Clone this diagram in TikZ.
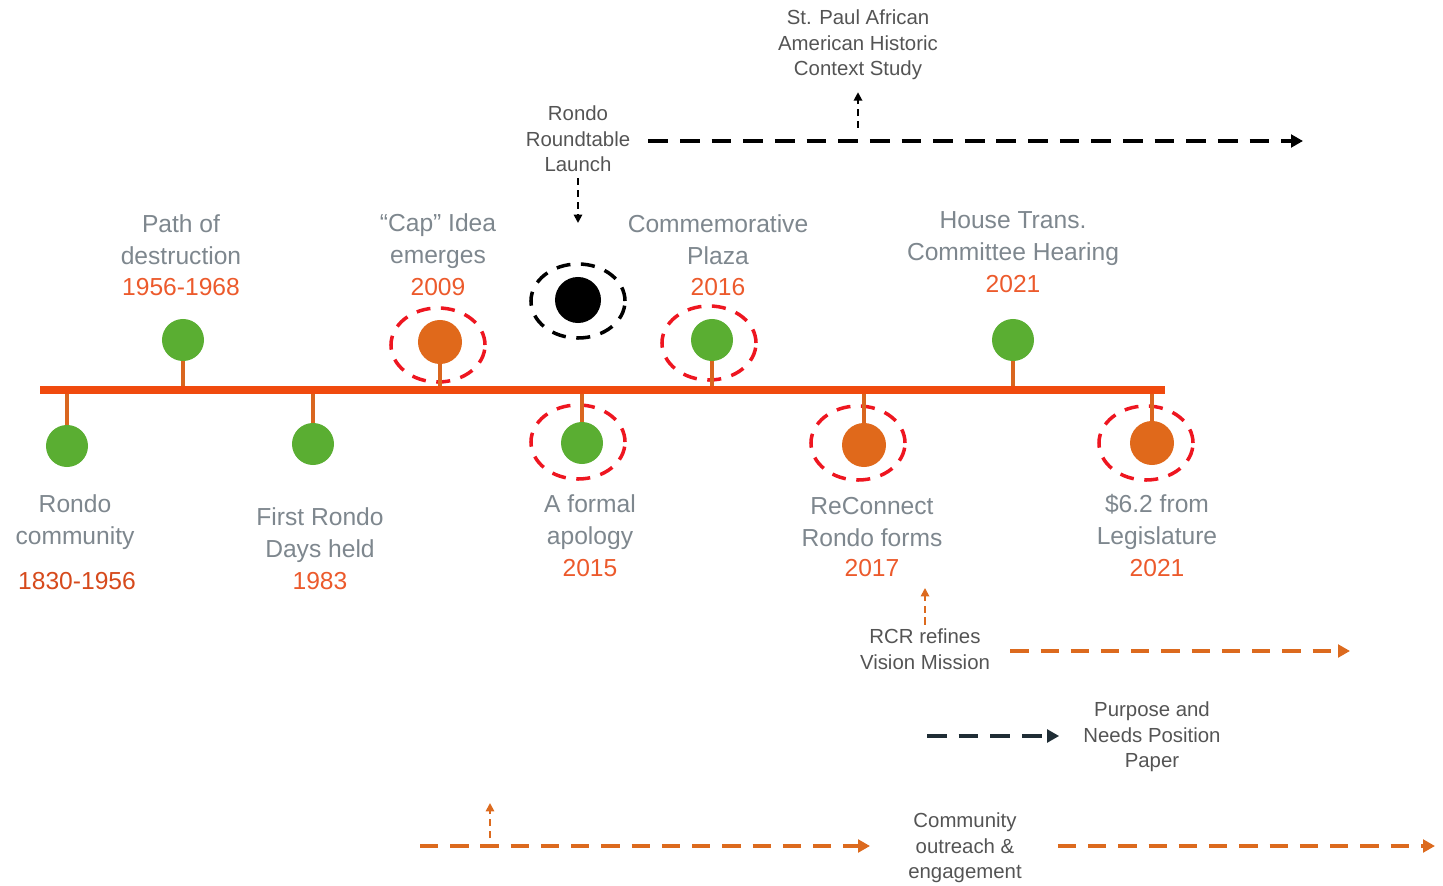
\documentclass[tikz,border=0pt]{standalone}
\usepackage{fontspec}
\setmainfont{Liberation Sans}
\usetikzlibrary{positioning,arrows.meta,shapes.geometric}
\definecolor{RRLine}{HTML}{F04A0E}
\definecolor{RRStem}{HTML}{D9661F}
\definecolor{RRGreen}{HTML}{5AAE32}
\definecolor{RROrange}{HTML}{E0691B}
\definecolor{RRRing}{HTML}{EE1620}
\definecolor{RRText}{HTML}{7E878E}
\definecolor{RRDark}{HTML}{545454}
\definecolor{RRYear}{HTML}{EC5A2C}
\definecolor{RRYearDark}{HTML}{D64A1C}
\definecolor{RRFlow}{HTML}{DC6A1E}
\definecolor{RRNavy}{HTML}{1F2D35}

\begin{document}
\begin{tikzpicture}[
  x=0.025cm, y=-0.025cm,
  dotgreen/.style={circle, fill=RRGreen, inner sep=0pt, minimum size=10.5mm},
  dotorange/.style={circle, fill=RROrange, inner sep=0pt, minimum size=11mm},
  dotblack/.style={circle, fill=black, inner sep=0pt, minimum size=11.5mm},
  ringred/.style={ellipse, draw=RRRing, line width=2.5pt, dash pattern=on 10pt off 7.5pt, minimum width=23.5mm, minimum height=18.5mm, inner sep=0pt},
  ringblack/.style={ringred, draw=black},
  bigtext/.style={text=RRText, align=center, inner sep=0pt, font=\fontsize{17.5}{22.7}\selectfont},
  yeartext/.style={text=RRYear, inner sep=0pt, font=\fontsize{17.5}{22.7}\selectfont},
  smalltext/.style={text=RRDark, align=center, inner sep=0pt, font=\fontsize{14.5}{18.1}\selectfont},
  timeline/.style={RRLine, line width=5.9pt},
  stemline/.style={RRStem, line width=2.6pt},
  blackflow/.style={-{Triangle[length=8.5pt,width=9pt]}, black, line width=2.8pt, dash pattern=on 14pt off 8.5pt},
  orangeflow/.style={-{Triangle[length=8.5pt,width=9pt]}, RRFlow, line width=2.8pt, dash pattern=on 13pt off 8.5pt},
  navyflow/.style={-{Triangle[length=8.5pt,width=9pt]}, RRNavy, line width=2.8pt, dash pattern=on 14pt off 8.5pt},
  thinblack/.style={-{Triangle[length=6pt,width=6pt]}, black, line width=1.3pt, dash pattern=on 5pt off 3.5pt},
  thinorange/.style={-{Triangle[length=6pt,width=6pt]}, RRFlow, line width=1.3pt, dash pattern=on 5pt off 3.5pt}
]
\useasboundingbox (0,0) rectangle (1443,886);

% timeline
\coordinate (tlwest) at (40,390);
\coordinate (tleast) at (1165,390);

% milestones
\node[dotgreen] (rondodot) at (67,446) {};
\node[dotgreen] (pathdot) at (183,340) {};
\node[dotgreen] (daysdot) at (313,444) {};
\node[dotorange] (capdot) at (440,342) {};
\node[ringred] (capring) at (438,345) {};
\node[dotblack] (launchdot) at (578,300) {};
\node[ringblack] (launchring) at (578,301) {};
\node[dotgreen] (apologydot) at (582,443) {};
\node[ringred] (apologyring) at (578,442) {};
\node[dotgreen] (plazadot) at (712,340) {};
\node[ringred] (plazaring) at (709,343) {};
\node[dotorange] (reconnectdot) at (864,445) {};
\node[ringred] (reconnectring) at (858,443) {};
\node[dotgreen] (hearingdot) at (1013,340) {};
\node[dotorange] (fundsdot) at (1152,443) {};
\node[ringred] (fundsring) at (1146,443) {};

\draw[stemline] (rondodot.north) -- (rondodot.north |- tlwest);
\draw[stemline] (pathdot.south) -- (pathdot.south |- tlwest);
\draw[stemline] (daysdot.north) -- (daysdot.north |- tlwest);
\draw[stemline] (capdot.south) -- (capdot.south |- tlwest);
\draw[stemline] (apologydot.north) -- (apologydot.north |- tlwest);
\draw[stemline] (plazadot.south) -- (plazadot.south |- tlwest);
\draw[stemline] (reconnectdot.north) -- (reconnectdot.north |- tlwest);
\draw[stemline] (hearingdot.south) -- (hearingdot.south |- tlwest);
\draw[stemline] (fundsdot.north) -- (fundsdot.north |- tlwest);
\draw[timeline] (tlwest) -- (tleast);

% labels
\node[bigtext] (rondolbl) at (75,522) {Rondo\\community};
\node[yeartext, text=RRYearDark] (rondoyr) at (77,581) {1830-1956};
\node[bigtext] (pathlbl) at (181,240) {Path of\\destruction};
\node[yeartext] (pathyr) at (181,287) {1956-1968};
\node[bigtext] (dayslbl) at (320,535) {First Rondo\\Days held};
\node[yeartext] (daysyr) at (320,581) {1983};
\node[bigtext] (caplbl) at (438,241) {“Cap” Idea\\emerges};
\node[yeartext] (capyr) at (438,287) {2009};
\node[bigtext] (apologylbl) at (590,522) {A formal\\apology};
\node[yeartext] (apologyyr) at (590,568) {2015};
\node[bigtext] (plazalbl) at (718,240) {Commemorative\\Plaza};
\node[yeartext] (plazayr) at (718,287) {2016};
\node[bigtext] (reconnectlbl) at (872,522) {ReConnect\\Rondo forms};
\node[yeartext] (reconnectyr) at (872,568) {2017};
\node[bigtext] (hearinglbl) at (1013,239) {House Trans.\\Committee Hearing};
\node[yeartext] (hearingyr) at (1013,284) {2021};
\node[bigtext] (fundslbl) at (1157,522) {\$6.2 from\\Legislature};
\node[yeartext] (fundsyr) at (1157,568) {2021};

% roundtable and study
\node[smalltext] (launch) at (578,139) {Rondo\\Roundtable\\Launch};
\node[smalltext] (stpaul) at (858,45) {St. Paul African\\American Historic\\Context Study};
\coordinate (launchtip) at (578,223);
\coordinate (rtend) at (1303,141);
\coordinate (stpfoot) at (858,128);
\draw[thinblack, shorten <=1.5mm] (launch.south) -- (launchtip);
\draw[blackflow, shorten <=4.5mm] (launch.east |- rtend) -- (rtend);
\draw[thinblack, shorten >=3mm] (stpfoot) -- (stpaul.south);

% follow-up work
\node[smalltext] (rcr) at (925,649) {RCR refines\\Vision Mission};
\coordinate (rcrtip) at (925,588);
\coordinate (rcrend) at (1350,651);
\draw[thinorange, shorten <=1mm] (rcr.north) -- (rcrtip);
\draw[orangeflow, shorten <=5mm] (rcr.east |- rcrend) -- (rcrend);

\node[smalltext] (purpose) at (1152,737) {Purpose and\\Needs Position\\Paper};
\coordinate (paperstart) at (927,736);
\draw[navyflow, shorten >=6mm] (paperstart) -- (purpose.west |- paperstart);

\node[smalltext] (outreach) at (965,848) {Community\\outreach \&\\engagement};
\coordinate (outstart) at (420,846);
\coordinate (outend) at (1435,846);
\coordinate (outfoot) at (490,838);
\coordinate (outtip) at (490,803);
\draw[orangeflow, shorten >=9.5mm] (outstart) -- (outreach.west |- outstart);
\draw[orangeflow, shorten <=9mm] (outreach.east |- outend) -- (outend);
\draw[thinorange] (outfoot) -- (outtip);
\end{tikzpicture}
\end{document}
